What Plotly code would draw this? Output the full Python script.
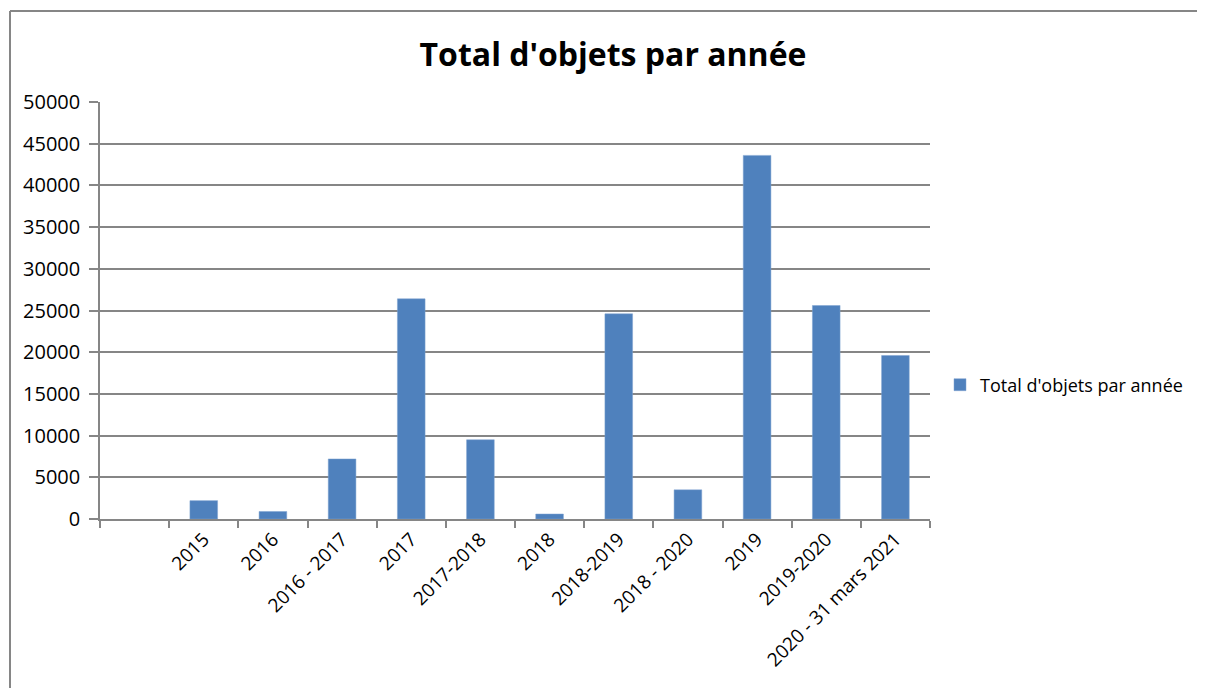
import plotly.graph_objects as go

categories = [" ", "2015", "2016", "2016 - 2017", "2017", "2017-2018", "2018",
              "2018-2019", "2018 - 2020", "2019", "2019-2020", "2020 - 31 mars 2021"]
values = [None, 2200, 900, 7200, 26400, 9500, 600, 24600, 3500, 43600, 25600, 19600]
series_name = "Total d'objets par année"
y_ticks = [0, 5000, 10000, 15000, 20000, 25000, 30000, 35000, 40000, 45000, 50000]

FONT = "Open Sans, sans-serif"
GRAY = "#868686"

# page body has an 8px margin, so the figure is offset by 8px
OFF = 8
W, H = 1205 - OFF, 688 - OFF

def fx(x):
    return x - OFF

L = fx(100)
T = fx(102)
R = W - fx(930)
B = H - fx(519)
pw = W - L - R
ph = H - T - B

def px_x(x):
    return (fx(x) - L) / pw

def px_y(y):
    return (H - B - fx(y)) / ph

fig = go.Figure()
fig.add_trace(go.Bar(
    x=categories, y=values, name=series_name,
    marker=dict(color="#4F81BD", line=dict(color="#7FA3D1", width=0.5)),
    showlegend=True,
))

fig.update_layout(
    width=W, height=H,
    margin=dict(l=L, r=R, t=T, b=B),
    paper_bgcolor="white", plot_bgcolor="white",
    bargap=0.6,
    title=dict(text="<b>Total d'objets par année</b>", x=fx(613) / W, xanchor="center",
               y=1 - fx(55) / H, yanchor="middle",
               font=dict(family=FONT, size=32, color="black")),
    font=dict(family=FONT, size=19, color="black"),
    legend=dict(x=px_x(940), y=px_y(385), xanchor="left", yanchor="middle",
                font=dict(family=FONT, size=18, color="black"),
                itemwidth=30, bgcolor="rgba(0,0,0,0)"),
    xaxis=dict(
        type="category", categoryorder="array", categoryarray=categories,
        tickangle=-45, tickson="boundaries", ticks="outside", ticklen=7,
        tickcolor=GRAY, tickwidth=1.5,
        showline=True, linecolor=GRAY, linewidth=1.5,
        showgrid=False, tickfont=dict(family=FONT, size=19, color="black"),
        range=[-0.5, len(categories) - 0.5], fixedrange=True,
    ),
    yaxis=dict(
        range=[0, 50000], tickvals=y_ticks, ticktext=[str(v) for v in y_ticks],
        ticks="outside", ticklen=9, tickcolor=GRAY, tickwidth=1.5,
        showline=True, linecolor=GRAY, linewidth=1.5,
        showgrid=True, gridcolor=GRAY, gridwidth=1.5,
        zeroline=False, tickfont=dict(family=FONT, size=20, color="black"),
        ticklabelstandoff=5,
        fixedrange=True,
    ),
    shapes=[
        dict(type="line", xref="paper", yref="paper",
             x0=px_x(10), x1=px_x(10), y0=px_y(11), y1=px_y(700),
             line=dict(color=GRAY, width=2)),
        dict(type="line", xref="paper", yref="paper",
             x0=px_x(10), x1=px_x(1210), y0=px_y(11), y1=px_y(11),
             line=dict(color=GRAY, width=2)),
    ],
)

fig.write_html("out.html")
